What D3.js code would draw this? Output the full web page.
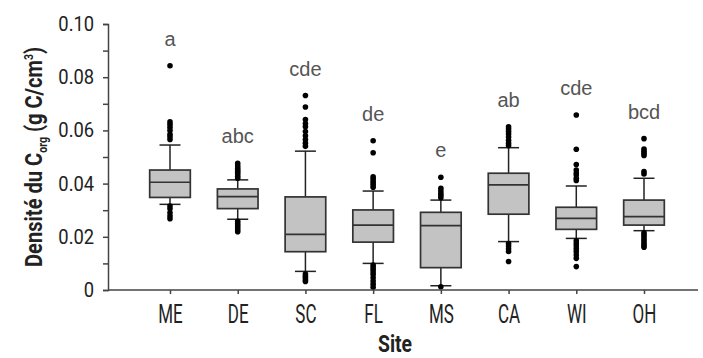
<!DOCTYPE html>
<html>
<head>
<meta charset="utf-8">
<script src="https://cdn.jsdelivr.net/npm/d3@7"></script>
<style>
  body { margin: 0; background: #fff; }
  svg { display: block; }
</style>
</head>
<body>
<div id="chart"></div>
<script>
// sites along the x axis and the letter groups printed above each box
const sites = ['ME', 'DE', 'SC', 'FL', 'MS', 'CA', 'WI', 'OH'];
const groupLetters = ['a', 'abc', 'cde', 'de', 'e', 'ab', 'cde', 'bcd'];

// box statistics per site (g C/cm3)
const whiskerLow = [0.0322, 0.0266, 0.0070, 0.0100, 0.0016, 0.0182, 0.0194, 0.0223];
const q1 = [0.0348, 0.0306, 0.0144, 0.0180, 0.0084, 0.0285, 0.0228, 0.0244];
const medians = [0.0405, 0.0351, 0.0209, 0.0244, 0.0242, 0.0395, 0.0269, 0.0276];
const q3 = [0.0451, 0.0380, 0.0350, 0.0301, 0.0292, 0.0439, 0.0311, 0.0338];
const whiskerHigh = [0.0545, 0.0414, 0.0522, 0.0372, 0.0338, 0.0535, 0.0391, 0.0420];

// outliers per site
const outliers = [
    [0.0843, 0.0632, 0.0622, 0.0612, 0.0600, 0.0585, 0.0576, 0.0566, 0.0316, 0.0305, 0.0290, 0.0278, 0.0268],
    [0.0476, 0.0466, 0.0458, 0.0450, 0.0443, 0.0436, 0.0428, 0.0420, 0.0258, 0.0250, 0.0242, 0.0234, 0.0226, 0.0219],
    [0.0731, 0.0688, 0.0641, 0.0626, 0.0614, 0.0596, 0.0580, 0.0566, 0.0552, 0.0540, 0.0060, 0.0052, 0.0045, 0.0038, 0.0032],
    [0.0561, 0.0516, 0.0426, 0.0418, 0.0410, 0.0402, 0.0395, 0.0386, 0.0094, 0.0086, 0.0078, 0.0068, 0.0058, 0.0046, 0.0034, 0.0022, 0.0010],
    [0.0424, 0.0382, 0.0372, 0.0363, 0.0355, 0.0347, 0.0012],
    [0.0614, 0.0605, 0.0596, 0.0586, 0.0575, 0.0563, 0.0552, 0.0543, 0.0175, 0.0165, 0.0155, 0.0145, 0.0107],
    [0.0658, 0.0529, 0.0472, 0.0451, 0.0440, 0.0432, 0.0420, 0.0412, 0.0185, 0.0175, 0.0165, 0.0155, 0.0145, 0.0132, 0.0119, 0.0088],
    [0.0569, 0.0530, 0.0522, 0.0514, 0.0506, 0.0445, 0.0436, 0.0215, 0.0208, 0.0200, 0.0192, 0.0184, 0.0176, 0.0168, 0.0161]
];

// y axis
const yTicks = [0, 0.02, 0.04, 0.06, 0.08, 0.10];
const yTickLabels = ['0', '0.02', '0.04', '0.06', '0.08', '0.10'];
const yMinorTicks = [0.01, 0.03, 0.05, 0.07, 0.09];

const width = 703;
const height = 358;
const plot = { left: 108, right: 698, top: 24, bottom: 290 };
const condensed = 'Roboto, "Liberation Sans", sans-serif';

const svg = d3.select('#chart').append('svg')
    .attr('width', width)
    .attr('height', height);

const scaleX = d3.scalePoint().domain(sites).range([170, 644]);
const scaleY = d3.scaleLinear().domain([0, 0.1]).range([plot.bottom, plot.top]);
const boxW = scaleX.step() * 0.6;
const capW = scaleX.step() * 0.31;

const rows = sites.map((s, i) => ({
    site: s, letters: groupLetters[i],
    lo: whiskerLow[i], q1: q1[i], med: medians[i], q3: q3[i], hi: whiskerHigh[i],
    out: outliers[i]
}));

// boxes
const box = svg.append('g').selectAll('g.box')
    .data(rows)
    .enter().append('g')
        .attr('class', 'box')
        .attr('transform', d => 'translate(' + scaleX(d.site) + ',0)');

box.append('line')
    .attr('x1', 0).attr('x2', 0)
    .attr('y1', d => scaleY(d.hi)).attr('y2', d => scaleY(d.q3))
    .attr('stroke', '#222').attr('stroke-width', 1.5);
box.append('line')
    .attr('x1', 0).attr('x2', 0)
    .attr('y1', d => scaleY(d.q1)).attr('y2', d => scaleY(d.lo))
    .attr('stroke', '#222').attr('stroke-width', 1.5);
box.append('line')
    .attr('x1', -capW / 2).attr('x2', capW / 2)
    .attr('y1', d => scaleY(d.hi)).attr('y2', d => scaleY(d.hi))
    .attr('stroke', '#222').attr('stroke-width', 1.5);
box.append('line')
    .attr('x1', -capW / 2).attr('x2', capW / 2)
    .attr('y1', d => scaleY(d.lo)).attr('y2', d => scaleY(d.lo))
    .attr('stroke', '#222').attr('stroke-width', 1.5);

box.append('rect')
    .attr('x', -boxW / 2)
    .attr('width', boxW)
    .attr('y', d => scaleY(d.q3))
    .attr('height', d => scaleY(d.q1) - scaleY(d.q3))
    .attr('fill', '#c3c3c3')
    .attr('stroke', '#333').attr('stroke-width', 1.7);

box.append('line')
    .attr('x1', -boxW / 2).attr('x2', boxW / 2)
    .attr('y1', d => scaleY(d.med)).attr('y2', d => scaleY(d.med))
    .attr('stroke', '#333').attr('stroke-width', 1.7);

box.selectAll('circle')
    .data(d => d.out)
    .enter().append('circle')
        .attr('cx', 0)
        .attr('cy', v => scaleY(v))
        .attr('r', 2.8)
        .attr('fill', '#000');

box.append('text')
    .attr('x', 0)
    .attr('y', d => scaleY(d3.max(d.out)) - 20)
    .attr('text-anchor', 'middle')
    .attr('font-family', '"Liberation Sans", Arial, sans-serif')
    .attr('font-size', 20)
    .attr('fill', '#555')
    .text(d => d.letters);

// y axis
const yAxis = svg.append('g')
    .attr('transform', 'translate(' + plot.left + ',0)')
    .call(d3.axisLeft(scaleY)
        .tickValues(yTicks)
        .tickSize(5)
        .tickPadding(10)
        .tickFormat((d, i) => yTickLabels[i]));
yAxis.append('g')
    .call(d3.axisLeft(scaleY).tickValues(yMinorTicks).tickSize(5).tickFormat(''))
    .select('.domain').remove();
yAxis.selectAll('text')
    .attr('font-family', condensed)
    .attr('font-size', 20)
    .attr('fill', '#222')
    .attr('transform', 'scale(0.92,1)');

// x axis
const xAxis = svg.append('g')
    .attr('transform', 'translate(0,' + plot.bottom + ')')
    .call(d3.axisBottom(scaleX).tickSize(4).tickPadding(11));
xAxis.select('.domain')
    .attr('d', 'M' + plot.left + ',0H' + plot.right);
xAxis.selectAll('text')
    .attr('font-family', condensed)
    .attr('font-size', 25)
    .attr('fill', '#222')
    .attr('transform', 'scale(0.68,1)');

svg.selectAll('.domain, .tick line')
    .attr('stroke', '#444')
    .attr('stroke-width', 1.5);

// titles
svg.append('text')
    .attr('x', 395)
    .attr('y', 352)
    .attr('text-anchor', 'middle')
    .attr('font-family', condensed)
    .attr('font-weight', 'bold')
    .attr('font-size', 23)
    .attr('fill', '#222')
    .attr('textLength', 34)
    .attr('lengthAdjust', 'spacingAndGlyphs')
    .text('Site');

const yTitle = svg.append('text')
    .attr('transform', 'translate(42,157) rotate(-90)')
    .attr('text-anchor', 'middle')
    .attr('font-family', condensed)
    .attr('font-weight', 'bold')
    .attr('font-size', 23)
    .attr('fill', '#222')
    .attr('textLength', 220)
    .attr('lengthAdjust', 'spacingAndGlyphs');
yTitle.append('tspan').text('Densité du C');
yTitle.append('tspan').attr('dy', 5).attr('font-size', 12).text('org');
yTitle.append('tspan').attr('dy', -5).text(' (g C/cm');
yTitle.append('tspan').attr('dy', -9).attr('font-size', 12).text('3');
yTitle.append('tspan').attr('dy', 9).text(')');
</script>
</body>
</html>
